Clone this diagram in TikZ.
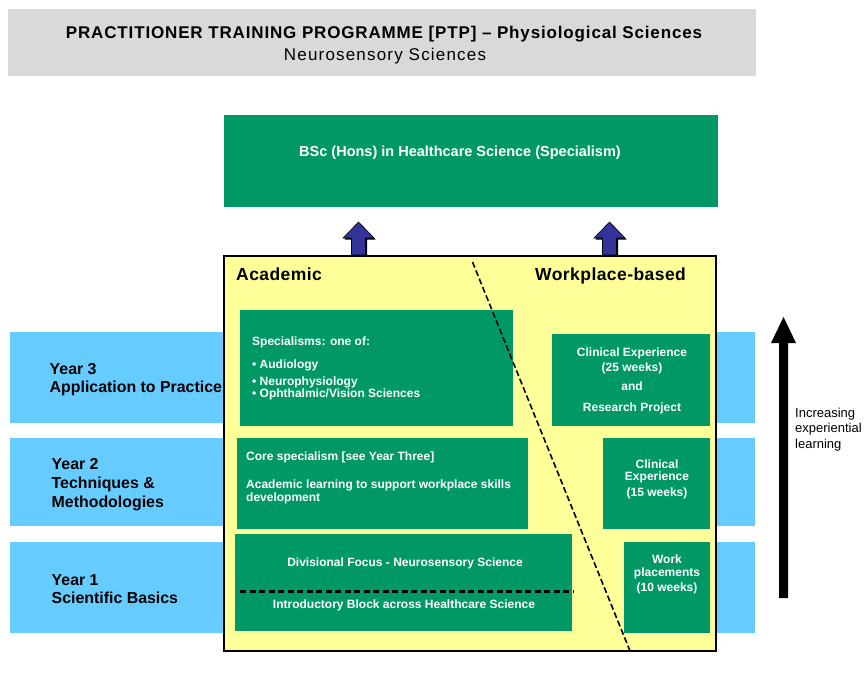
\documentclass[tikz,border=0pt]{standalone}
\usepackage{fontspec}
\setmainfont{Liberation Sans}
\definecolor{ptpgreen}{HTML}{009966}
\definecolor{bandblue}{HTML}{66CCFF}
\definecolor{panelyellow}{HTML}{FFFF99}
\definecolor{headgray}{HTML}{D9D9D9}
\definecolor{arrowblue}{HTML}{333399}
\newcommand{\ptpsize}[1]{\fontsize{#1}{#1}\selectfont}
\begin{document}
\begin{tikzpicture}[x=1pt,y=-1pt,
  box/.style={anchor=north west,inner sep=0,outer sep=0},
  greenbox/.style={box,fill=ptpgreen},
  band/.style={box,fill=bandblue},
  wtxt/.style={text=white,font=\bfseries\ptpsize{12},inner sep=0,anchor=base},
  wtxtl/.style={wtxt,anchor=base west},
  yeartxt/.style={font=\bfseries\ptpsize{15.9},inner sep=0,anchor=base west},
  coltxt/.style={font=\bfseries\ptpsize{17.5}\addfontfeature{LetterSpace=2.5},inner sep=0,anchor=base west},
  sidetxt/.style={font=\ptpsize{13},inner sep=0,anchor=base west},
  blockarrow/.style={fill=arrowblue,draw=black,line width=0.6pt},
  blockshadow/.style={fill=black}]
\useasboundingbox (0,0) rectangle (866,674);

% header
\node[box,fill=headgray,minimum width=748,minimum height=67] (head) at (8,9) {};
\node[font=\bfseries\ptpsize{17}\addfontfeature{LetterSpace=5},inner sep=0,anchor=base] (title) at (384,38.5)
  {PRACTITIONER TRAINING PROGRAMME [PTP] – Physiological Sciences};
\node[font=\ptpsize{17}\addfontfeature{LetterSpace=7},inner sep=0,anchor=base] (subtitle) at (385,61) {Neurosensory Sciences};

% year bands
\node[band,minimum width=745,minimum height=91] (band3) at (10,332) {};
\node[band,minimum width=745,minimum height=88] (band2) at (10,438) {};
\node[band,minimum width=745,minimum height=91] (band1) at (10,542) {};

\node[yeartxt] (y3a) at (49.5,374) {Year 3};
\node[yeartxt] (y3b) at (49.5,392.7) {Application to Practice};
\node[yeartxt] (y2a) at (51.5,469.3) {Year 2};
\node[yeartxt] (y2b) at (51.5,488.3) {Techniques \&};
\node[yeartxt] (y2c) at (51.5,507.3) {Methodologies};
\node[yeartxt] (y1a) at (51.5,585) {Year 1};
\node[yeartxt] (y1b) at (51.5,603.3) {Scientific Basics};

% panel
\node[box,fill=panelyellow,draw=black,line width=1.5pt,minimum width=492,minimum height=395] (panel) at (224,256) {};
\node[coltxt] (acad) at (236,280.5) {Academic};
\node[coltxt] (work) at (535,280.5) {Workplace-based};

% degree box
\node[greenbox,minimum width=494,minimum height=92] (bsc) at (224,115) {};
\node[wtxt,font=\bfseries\ptpsize{14.5}] (bsct) at (460,156.5) {BSc (Hons) in Healthcare Science (Specialism)};

% block arrows up to the degree
\foreach \cx in {358.5,609.5}{
  \fill[blockshadow,shift={(1.5,1.5)}] (\cx-7,255) -- (\cx-7,238) -- (\cx-15.5,238) -- (\cx,222)
     -- (\cx+15.5,238) -- (\cx+7,238) -- (\cx+7,255) -- cycle;
  \filldraw[blockarrow] (\cx-7,255) -- (\cx-7,238) -- (\cx-15.5,238) -- (\cx,222)
     -- (\cx+15.5,238) -- (\cx+7,238) -- (\cx+7,255) -- cycle;
}

% year 3
\node[greenbox,minimum width=273,minimum height=116] (spec) at (240,310) {};
\node[wtxtl] (spec0) at (252,345.7) {Specialisms: one of:};
\node[wtxtl] (spec1) at (252,368.3) {• Audiology};
\node[wtxtl] (spec2) at (252,385.7) {• Neurophysiology};
\node[wtxtl] (spec3) at (252,397.3) {• Ophthalmic/Vision Sciences};

\node[greenbox,minimum width=158,minimum height=92] (clin3) at (552,334) {};
\node[wtxt] (clin3a) at (632,356.7) {Clinical Experience};
\node[wtxt] (clin3b) at (632,371.7) {(25 weeks)};
\node[wtxt] (clin3c) at (632,390) {and};
\node[wtxt] (clin3d) at (632,411.7) {Research Project};

% year 2
\node[greenbox,minimum width=291,minimum height=91] (core) at (237,438) {};
\node[wtxtl] (corea) at (246,460) {Core specialism [see Year Three]};
\node[wtxtl] (coreb) at (246,488.3) {Academic learning to support workplace skills};
\node[wtxtl] (corec) at (246,501.7) {development};

\node[greenbox,minimum width=107,minimum height=91] (clin2) at (603,438) {};
\node[wtxt] (clin2a) at (657,468.3) {Clinical};
\node[wtxt] (clin2b) at (657,480.7) {Experience};
\node[wtxt] (clin2c) at (657,496.7) {(15 weeks)};

% year 1
\node[greenbox,minimum width=337,minimum height=97] (div) at (235,534) {};
\node[wtxt] (diva) at (405,566) {Divisional Focus - Neurosensory Science};
\node[wtxt] (divb) at (404,608) {Introductory Block across Healthcare Science};
\coordinate (splitl) at (240,591.5);
\coordinate (splitr) at (574,591.5);
\draw[line width=3pt,dash pattern=on 6pt off 3.5pt] (splitl) -- (splitr);

\node[greenbox,minimum width=86,minimum height=91] (wp) at (624,542) {};
\node[wtxt] (wpa) at (667,563.3) {Work};
\node[wtxt] (wpb) at (667,576.7) {placements};
\node[wtxt] (wpc) at (667,591.7) {(10 weeks)};

% academic / workplace divide
\coordinate (divtop) at (472.5,262);
\coordinate (divbot) at (630,651);
\draw[line width=1.6pt,dash pattern=on 6pt off 3pt] (divtop) -- (divbot);

% experiential learning arrow
\fill[black] (779,598) -- (779,343) -- (771,343) -- (783.5,317) -- (796,343) -- (788,343) -- (788,598) -- cycle;
\node[sidetxt] (inc1) at (795,417.3) {Increasing};
\node[sidetxt] (inc2) at (795,432.7) {experiential};
\node[sidetxt] (inc3) at (795,448.3) {learning};
\end{tikzpicture}
\end{document}
